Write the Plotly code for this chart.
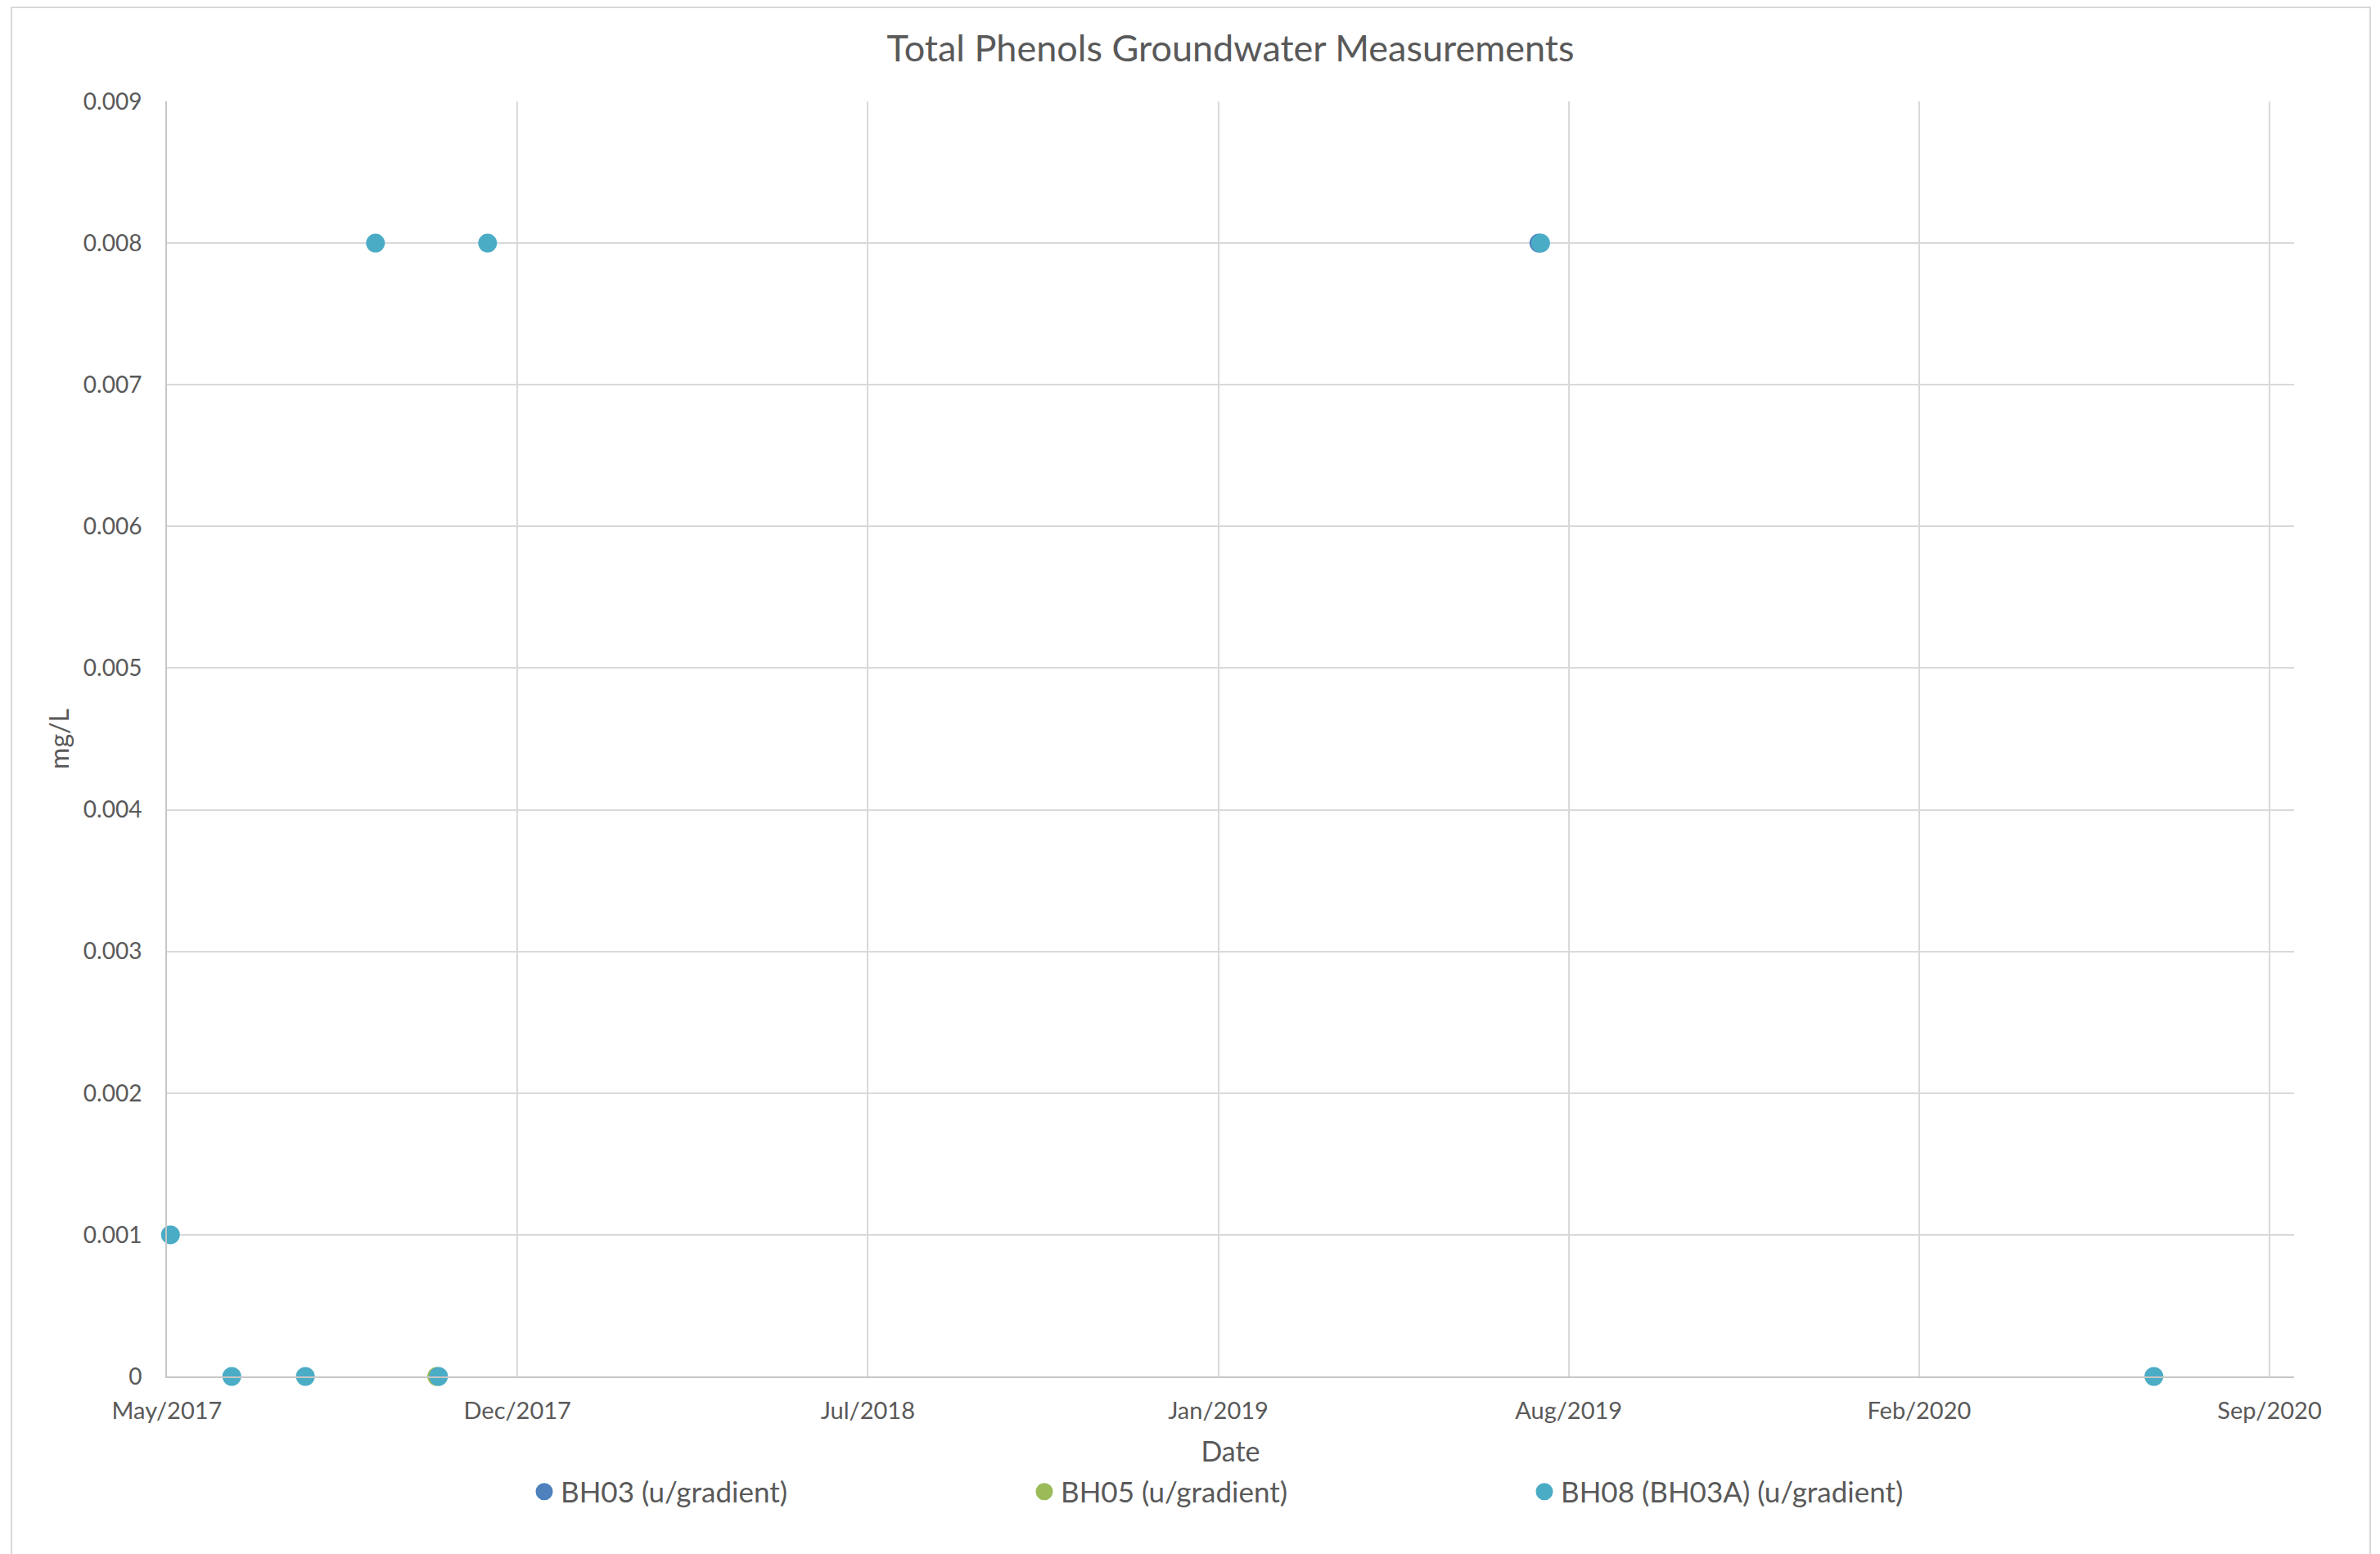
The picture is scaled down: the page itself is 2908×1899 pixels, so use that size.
import pandas as pd
import plotly.graph_objects as go

# ---- data ----
bh03_dates = ["2019-07-21"]
bh03_vals = [0.008]

bh05_dates = ["2017-10-30"]
bh05_vals = [0.0]

bh08_dates = ["2017-05-31", "2017-07-05", "2017-08-16", "2017-09-25",
              "2017-10-31", "2017-11-28", "2019-07-22", "2020-07-06"]
bh08_vals = [0.001, 0.0, 0.0, 0.008, 0.0, 0.008, 0.008, 0.0]

series_names = ["BH03 (u/gradient)", "BH05 (u/gradient)", "BH08 (BH03A) (u/gradient)"]
series_colors = ["#4F81BD", "#9BBB59", "#4BACC6"]

x_tick_labels = ["May/2017", "Dec/2017", "Jul/2018", "Jan/2019",
                 "Aug/2019", "Feb/2020", "Sep/2020"]
x_axis_start = "2017-05-29"
x_axis_end = "2020-09-24"
x_tick_step_days = 200

y_tick_vals = [0, 0.001, 0.002, 0.003, 0.004, 0.005, 0.006, 0.007, 0.008, 0.009]

# ---- figure ---- (page body has an 8px margin, so shift everything by 8)
OFF = 8
W, H = 2908 - OFF, 1899 - OFF
L, R, T, B = 204 - OFF, 2803 - OFF, 124 - OFF, 1682 - OFF
FONT = "Lato, 'Open Sans', sans-serif"
TXT = "#595959"

tick_vals = pd.date_range(x_axis_start, periods=len(x_tick_labels),
                          freq=f"{x_tick_step_days}D")

fig = go.Figure()
for dates, vals, name, color in [
    (bh03_dates, bh03_vals, series_names[0], series_colors[0]),
    (bh05_dates, bh05_vals, series_names[1], series_colors[1]),
    (bh08_dates, bh08_vals, series_names[2], series_colors[2]),
]:
    fig.add_trace(go.Scatter(
        x=pd.to_datetime(dates), y=vals, mode="markers", name=name,
        marker=dict(color=color, size=18, line=dict(width=5, color=color)),
        cliponaxis=False,
    ))

fig.update_layout(
    width=W, height=H,
    margin=dict(l=L, r=W - R, t=T, b=H - B, autoexpand=False),
    paper_bgcolor="white", plot_bgcolor="white",
    font=dict(family=FONT, color=TXT, size=28),
    title=dict(text="Total Phenols Groundwater Measurements",
               x=0.5, xanchor="center", xref="paper",
               y=1 - (59 - OFF) / H, yanchor="middle", yref="container",
               font=dict(size=45, color=TXT, family=FONT)),
    showlegend=True,
    legend=dict(orientation="h", x=(645 - OFF - L) / (R - L), xanchor="left",
                y=-(1823 - OFF - B) / (B - T), yanchor="middle",
                font=dict(size=35, color=TXT, family=FONT),
                entrywidth=566, entrywidthmode="pixels",
                itemsizing="trace", bgcolor="rgba(0,0,0,0)"),
)

fig.update_xaxes(
    type="date",
    range=[x_axis_start, x_axis_end],
    tickvals=tick_vals, ticktext=x_tick_labels,
    showgrid=True, gridcolor="#D9D9D9", gridwidth=2,
    showline=True, linecolor="#C6C6C6", linewidth=2,
    zeroline=False, ticks="", ticklabelstandoff=15,
    tickfont=dict(size=29, color=TXT, family=FONT),
    title=dict(text="Date", font=dict(size=34, color=TXT, family=FONT), standoff=23),
)
fig.update_yaxes(
    range=[0, 0.009],
    tickvals=y_tick_vals, tickformat=".3~f",
    showgrid=True, gridcolor="#D9D9D9", gridwidth=2,
    showline=True, linecolor="#C6C6C6", linewidth=2,
    zeroline=False, ticks="", ticklabelstandoff=23,
    tickfont=dict(size=28, color=TXT, family=FONT),
    title=dict(text="mg/L", font=dict(size=32, color=TXT, family=FONT), standoff=8),
)

# outer chart border
fig.add_shape(type="rect", xref="paper", yref="paper",
              x0=(14 - OFF - L) / (R - L), x1=(2896 - OFF - L) / (R - L),
              y0=(B - 1930) / (B - T), y1=(B - (9 - OFF)) / (B - T),
              line=dict(color="#D9D9D9", width=2), fillcolor="rgba(0,0,0,0)",
              layer="below")

fig.write_html("out.html")
